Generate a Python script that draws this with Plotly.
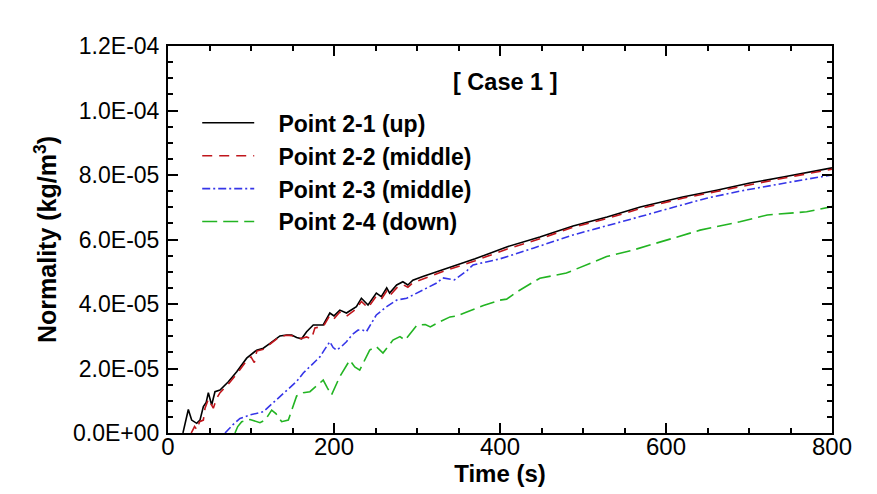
import plotly.graph_objects as go

SCALE = 1e-6  # values below are in units of 1E-06 kg/m3

t_up = [18, 24.5, 28.5, 34.6, 38.5, 42.6, 46, 48.6, 52.6, 56.6, 62.7, 72.7, 82.8, 94.8, 106.8, 114.8,
        122.9, 134.9, 143, 149, 155, 161, 167, 175, 187, 195, 200, 207, 215, 227, 233, 241, 251, 257,
        263.5, 267, 275.5, 283, 289, 295, 307, 323.7, 333.7, 351.8, 370, 408, 448, 488, 529, 569,
        620, 661, 701, 741, 800]
y_up = [0, 7.3, 4.0, 3.0, 4.0, 8.2, 9.5, 12.5, 8.7, 12.8, 13.3, 15.9, 19.0, 23.2, 25.7, 26.3,
        27.8, 30.1, 30.4, 30.4, 29.6, 29.2, 31.4, 33.5, 33.5, 37.2, 36.3, 38.1, 37.2, 39.2, 41.8, 39.7, 43.4, 42.3,
        45.0, 43.4, 45.9, 46.9, 45.9, 47.4, 48.5, 50.0, 50.9, 52.4, 54.0, 57.7, 60.8, 64.2, 67.0, 70.1,
        73.2, 75.3, 77.5, 79.4, 82.2]

t_mid1 = [28, 32, 35, 38, 42.6, 44.6, 48.6, 52, 54.6, 58.7, 62.7, 72.7, 82.8, 94.8, 100, 104, 107,
          114.8, 122.9, 134.9, 143, 149, 155, 161, 167, 173, 177, 187, 195, 200, 207, 215, 227, 233,
          241, 251, 257, 263.5, 267, 275.5, 283, 289, 295, 307, 323.7, 333.7, 351.8, 370, 408, 448,
          488, 529, 569, 620, 661, 701, 741, 800]
y_mid1 = [0, 2.0, 1.0, 3.5, 4.0, 7.7, 10.5, 9.0, 7.7, 10.8, 12.5, 15.2, 18.3, 22.5, 23.6, 21.8, 25.4,
          26.0, 27.5, 29.9, 30.3, 30.2, 29.4, 29.3, 29.8, 29.2, 32.6, 33.0, 36.5, 35.4, 37.5, 36.2, 38.5, 40.8,
          38.8, 42.5, 41.5, 44.0, 42.5, 45.0, 46.0, 45.2, 46.6, 47.8, 49.5, 50.3, 51.8, 53.4, 57.0, 60.2,
          63.8, 66.5, 69.6, 72.8, 74.9, 77.0, 79.0, 81.8]

t_mid2 = [68.7, 78, 86.7, 98.8, 114.8, 125, 134.9, 147, 155, 163, 175, 183, 189, 195, 199, 203, 209,
          215, 222, 229, 234, 239, 245, 251, 263.5, 275.5, 287.6, 299.6, 311, 323.7, 331, 340, 345,
          360, 367.5, 400, 408, 440, 488, 529, 569, 609, 649, 689, 729, 765, 800]
y_mid2 = [0, 2.5, 4.5, 5.6, 6.6, 9.0, 11.3, 14.4, 16.0, 18.6, 21.5, 23.6, 26.0, 28.3, 26.5, 25.7, 26.8,
          28.3, 30.5, 31.9, 32.0, 31.4, 34.0, 36.6, 39.2, 41.2, 41.8, 43.4, 45.0, 46.5, 48.1, 47.6, 47.5,
          50.3, 52.1, 54.0, 54.7, 57.3, 61.4, 64.4, 67.1, 70.0, 72.8, 75.0, 76.9, 78.5, 80.0]

t_down = [80.7, 84, 88.8, 98.8, 110.8, 117, 124.9, 130, 137, 145, 155, 163, 171, 179, 187, 192, 197,
          207, 213, 219, 225, 231, 243, 251, 259, 271, 279.5, 285.5, 300, 310, 316, 325, 339.8, 347.8,
          360, 380, 400, 408, 420, 448, 480, 528.5, 560, 608.5, 641, 689, 722, 769.5, 800]
y_down = [0, 2.0, 3.5, 4.2, 3.2, 4.0, 7.1, 6.0, 3.5, 4.0, 11.5, 12.5, 12.8, 14.5, 16.4, 14.0, 11.8,
          17.5, 20.0, 22.6, 20.5, 19.5, 25.7, 26.8, 24.8, 28.8, 29.9, 28.8, 33.5, 33.6, 32.9, 34.2, 36.0, 36.3,
          37.5, 39.5, 41.2, 41.5, 43.7, 48.0, 49.6, 54.7, 56.7, 60.4, 62.9, 65.5, 67.6, 68.6, 70.2]

series_names = ["Point 2-1 (up)", "Point 2-2 (middle)", "Point 2-3 (middle)", "Point 2-4 (down)"]

x_tickvals = [0, 200, 400, 600, 800]
x_ticktext = ["0", "200", "400", "600", "800"]
y_tickvals = [0, 2e-5, 4e-5, 6e-5, 8e-5, 1e-4, 1.2e-4]
y_ticktext = ["0.0E+00", "2.0E-05", "4.0E-05", "6.0E-05", "8.0E-05", "1.0E-04", "1.2E-04"]

FONT = "Liberation Sans, Arial, sans-serif"

styles = [
    dict(color="#000000", width=1.6, dash="solid"),
    dict(color="#c0161c", width=1.6, dash="10px,7px"),
    dict(color="#3535e8", width=1.6, dash="8px,3px,2px,3px"),
    dict(color="#22b422", width=1.6, dash="15px,6px"),
]

data_sets = [(t_up, y_up), (t_mid1, y_mid1), (t_mid2, y_mid2), (t_down, y_down)]

fig = go.Figure()
for (tt, yy), name, st in zip(data_sets, series_names, styles):
    fig.add_trace(go.Scatter(x=tt, y=[v * SCALE for v in yy], mode="lines",
                             name="\u00a0\u00a0\u00a0<b>" + name + "</b>", line=st))

axis_common = dict(
    showline=True, linecolor="black", linewidth=2, mirror="allticks",
    ticks="inside", ticklen=10, tickwidth=2, tickcolor="black",
    showgrid=False, zeroline=False, automargin=False,
)

fig.update_xaxes(
    range=[0, 800], tickvals=x_tickvals, ticktext=x_ticktext,
    tickfont=dict(family=FONT, size=24, color="black"),
    ticklabelstandoff=-9,
    minor=dict(dtick=50, ticks="inside", ticklen=5, tickwidth=1.5, tickcolor="black"),
    title=dict(text="<b>Time (s)</b>", standoff=0,
               font=dict(family=FONT, size=24, color="black")),
    **axis_common,
)
fig.update_yaxes(
    range=[0, 1.2e-4], tickvals=y_tickvals, ticktext=y_ticktext,
    tickfont=dict(family=FONT, size=23, color="black"),
    minor=dict(dtick=0.5e-5, tick0=0, ticks="inside", ticklen=5, tickwidth=1.5, tickcolor="black"),
    title=dict(text="<b>Normality (kg/m<sup>3</sup>)</b>", standoff=9,
               font=dict(family=FONT, size=25, color="black")),
    ticklabelstandoff=2,
    **axis_common,
)

fig.add_annotation(
    text="<b>[ Case 1 ]</b>", xref="paper", yref="paper", x=0.508, y=0.907,
    xanchor="center", yanchor="middle", showarrow=False,
    font=dict(family=FONT, size=23.5, color="black"),
)

fig.update_layout(
    width=877, height=494,
    margin=dict(l=168, r=45, t=46, b=61, autoexpand=False),
    plot_bgcolor="white", paper_bgcolor="white",
    showlegend=True,
    legend=dict(x=0.044, y=0.857, xanchor="left", yanchor="top",
                bgcolor="rgba(0,0,0,0)", borderwidth=0,
                font=dict(family=FONT, size=23, color="black"),
                itemwidth=52, tracegroupgap=0),
)

fig.write_html("out.html", config={"displayModeBar": False},
               post_script="document.body.style.margin='0';document.body.style.overflow='hidden';")
